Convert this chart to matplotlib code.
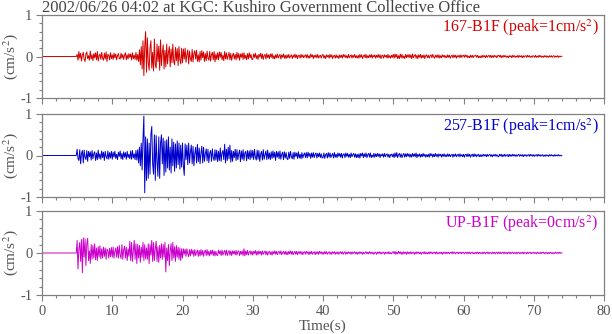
import numpy as np
import matplotlib
matplotlib.use("Agg")
import matplotlib.pyplot as plt
from matplotlib.ticker import MultipleLocator

plt.rcParams['font.family'] = ['Liberation Serif', 'DejaVu Serif']
plt.rcParams['mathtext.fontset'] = 'stix'

title = "2002/06/26 04:02 at KGC: Kushiro Government Collective Office"
dt = 0.125  # sample spacing (s) of the values
names = ["167-B1F", "257-B1F", "UP-B1F"]
peaks = [1, 1, 0]
colors = ["#d40000", "#0000cc", "#cc00cc"]

# accelerations in units of 0.01 cm/s^2, one row = 5 s
acc_167 = [
    0, 0, 0, 0, 0, 0, 0, 0, 0, 0, 0, 0, 0, 0, 0, 0, 0, 0, 0, 0, 0, 0, 0, 0, 0, 0, 0, 0, 0, 0, 0, 0, 0, 0, 0, 0, 0, 0, 0, 0,
    5, -9, 12, -4, 8, -11, 3, 10, -7, -12, 6, 11, -5, 2, -9, 13, -6, 4, -10, 7, -3, 9, -8, 12, -11, 2, 6, -7, 10, -4, -9, 8, -6, 11, -12, 5, 3, -8, 9, -5,
    4, -7, 8, -3, 6, -8, 2, 7, -5, -6, 8, -4, 5, -7, 3, 9, -8, 4, -6, 7, -2, 6, -8, 9, -5, 3, -7, 10, -9, 5, -12, 16, -20, 24, -30, 38, -46, 25, 60, -38,
    45, -15, -33, 20, 38, -28, 10, -35, 42, -20, -28, 30, -12, 25, -33, 40, -22, 8, 28, -30, 15, -25, 30, -18, 10, 24, -25, 18, -15, 30, -12, -20, 22, -10, 19, -22, 24, -8, -18, 20,
    -15, 18, -6, 20, -14, 4, 16, -18, 13, -5, -12, 17, -13, 8, 14, -6, 15, -12, 4, -13, 12, -9, 14, -3, 11, -12, 7, -10, 13, -4, -9, 12, -11, 5, 10, -8, 12, -13, 6, -7,
    9, -8, 11, -2, 10, -8, 3, -10, 12, -6, 9, -7, 2, 10, -8, 7, -9, 3, 8, -6, 5, -8, 10, -4, 7, -9, 6, -2, 8, -7, 9, -5, 3, -8, 7, -6, 9, -3, 5, -7,
    -7, 6, -2, 8, -5, 3, -7, 5, -1, 8, -5, 6, -7, 2, 5, -6, 7, -3, 4, -5, 6, -2, 7, -5, 2, -6, 4, -3, 6, -4, 1, 5, -6, 4, -2, 6, -4, 3, -5, 4,
    -3, 5, -4, 1, 4, -5, 3, -2, 6, -3, 4, -5, 2, 3, -4, 5, -2, 4, -3, 1, 4, -3, 5, -4, 2, -4, 6, -1, 4, -5, 3, -2, 4, -3, 5, -4, 1, 3, -4, 3,
    5, -4, 2, -5, 4, -1, 3, -4, 5, -2, 4, -5, 1, 3, -4, 4, -3, 2, -5, 4, -2, 3, -4, 5, -1, 4, -3, 2, -4, 5, -3, 1, 4, -4, 3, -2, 5, -3, 2, -4,
    3, -4, 5, -2, 4, -5, 1, 4, -3, 5, -4, 2, -3, 4, -2, 5, -4, 3, -1, 4, -4, 3, -2, 5, -3, 4, -5, 2, 3, -4, 4, -1, 3, -4, 5, -3, 2, -4, 3, -2,
    5, -4, 6, -2, 5, -5, 2, -5, 6, -3, 5, -4, 1, -5, 5, -3, 4, -2, 5, -3, 4, -5, 6, -3, 2, 5, -4, 3, -5, 4, -2, 5, -4, 3, -3, 4, -5, 2, 4, -3,
    3, -4, 2, 4, -3, 5, -1, -4, 3, -2, 4, -3, 4, -4, 2, -3, 4, -1, 3, -3, 2, -3, 4, -2, 3, -4, 1, 3, -3, 4, -2, 3, -4, 2, -1, 3, -3, 4, -2, 2,
    3, -2, 4, -1, 3, -3, 1, -3, 3, -2, 3, -3, 2, 1, 3, -2, 3, -3, 1, -3, 2, -3, 3, -1, 2, -3, 3, -2, 1, 3, -2, 3, -3, 2, -2, 3, -1, 2, -3, 2,
    3, -1, 3, -3, 2, -2, 3, -1, 2, -2, 1, -3, 2, -1, 2, -3, 3, -1, 2, -2, 1, -2, 3, -2, 2, -1, 2, -3, 2, -2, 1, 2, -2, 3, -1, 2, -2, 1, -2, 2,
    1, -2, 3, -2, 1, -2, 3, -1, 2, -2, 1, -2, 2, -1, 2, -2, 1, -2, 2, -1, 2, -2, 1, 2, -2, 1, -1, 2, -2, 1, -1, 1, 0,
]

acc_257 = [
    0, 0, 0, 0, 0, 0, 0, 0, 0, 0, 0, 0, 0, 0, 0, 0, 0, 0, 0, 0, 0, 0, 0, 0, 0, 0, 0, 0, 0, 0, 0, 0, 0, 0, 0, 0, 0, 0, 0, 0,
    15, -8, -12, 14, -20, 5, 12, -18, 13, -4, -10, 12, -14, 10, -3, 9, -11, 12, -8, 4, 9, -12, 6, -10, 13, -7, 4, -9, 11, -5, 8, -12, 10, -3, -8, 11, -9, 7, -6, 10,
    -9, 8, -4, 10, -7, 3, -10, 8, -2, 11, -8, 5, -10, 9, -4, 7, -9, 10, -5, 3, -8, 11, -9, 12, -6, 4, -10, 12, -11, 14, -18, 20, -25, 30, -35, 40, 95, -90, 45, -60,
    40, -55, 30, -45, 50, 70, -20, -45, 50, -60, 48, -15, -50, 45, -55, 30, 50, -20, 42, -48, 35, -40, 38, -30, 45, -35, 20, -42, 40, -25, 32, -38, 28, -30, 35, -22, 30, -33, 25, -28,
    30, -25, -48, 28, -10, 25, -22, 30, -18, 8, 25, -20, 22, -25, 5, 20, -18, 27, -15, 18, -20, 6, 22, -18, 20, -14, 4, 16, -13, 15, -17, 6, 12, -14, 16, -5, -12, 14, -11, 13,
    -15, 10, -12, 18, -14, 6, 12, -10, 27, -18, 15, -12, 20, -8, 25, -16, 12, -14, 10, -5, 15, -12, 14, -10, 4, 13, -15, 11, -9, 14, -12, 6, 10, -13, 12, -8, 11, -10, 13, -6,
    12, -10, 15, -4, -11, 13, -9, 12, -14, 3, 10, -11, 14, -9, 2, 11, -10, 13, -8, 6, -10, 9, -7, 11, -5, 8, -12, 10, -4, 9, -8, 11, -9, 3, 8, -10, 9, -6, 7, -8,
    -10, 8, -7, 10, -3, -8, 7, -9, 8, -2, 6, -7, 9, -6, 3, -8, 7, -6, 2, 6, -5, 7, -6, 8, -2, 5, -7, 6, -4, 7, -5, 3, 6, -6, 5, -3, 6, -5, 4, -6,
    -5, 6, -7, 2, 5, -6, 7, -4, 6, -5, 1, 5, -6, 7, -4, 3, -5, 6, -2, 5, -4, 5, -6, 3, 4, -5, 6, -2, 5, -4, 3, -5, 6, -3, 2, 5, -4, 4, -5, 3,
    -5, 4, -6, 5, -1, 6, -5, 4, -3, 6, -5, 2, 5, -4, 6, -5, 1, -4, 5, -4, 4, -3, 5, -2, 4, -5, 3, -1, 4, -4, 5, -3, 2, 4, -4, 3, -5, 2, 3, -3,
    4, -5, 6, -3, 7, -5, 2, 5, -4, 4, -5, 1, 5, -4, 4, -3, 5, -2, 4, -4, 3, -4, 5, -2, 4, -3, 6, -5, 3, -2, 4, -4, 3, -3, 5, -2, 3, -4, 2, -3,
    3, -4, 5, -1, 4, -4, 3, -3, 5, -2, 3, -4, 4, -1, 3, -4, 3, -2, 4, -3, 2, -3, 4, -2, 3, -3, 1, 3, -4, 3, -2, 4, -3, 1, 3, -3, 4, -2, 2, -3,
    3, -4, 2, 3, -3, 4, -2, 3, -4, 1, 3, -3, 4, -2, 3, -3, 1, 3, -3, 2, -3, 2, -2, 3, -1, 2, -3, 3, -2, 1, 3, -2, 2, -3, 2, -1, 3, -2, 2, -2,
    -3, 3, -1, 3, -3, 2, -2, 3, -2, 1, 2, -3, 3, -2, 2, -2, 3, -1, 2, -2, 2, -2, 1, 3, -2, 2, -1, 2, -3, 2, -1, 2, -2, 1, 2, -2, 3, -1, 2, -2,
    2, -2, 1, 2, -2, 3, -1, 2, -2, 1, 2, -2, 1, -2, 2, -1, 1, -2, 2, -1, 2, -1, 1, -2, 2, -1, 1, -1, 2, -1, 1, -1, 0,
]

acc_up = [
    0, 0, 0, 0, 0, 0, 0, 0, 0, 0, 0, 0, 0, 0, 0, 0, 0, 0, 0, 0, 0, 0, 0, 0, 0, 0, 0, 0, 0, 0, 0, 0, 0, 0, 0, 0, 0, 0, 0, 0,
    30, -38, 10, 25, -20, 32, -47, 36, -10, 34, -30, 22, 35, -18, 5, -25, 20, -15, 18, -12, 22, -16, 12, -18, 15, -9, 17, -14, 10, -12, 14, -8, 12, -15, 9, 6, -12, 11, -9, 13,
    -10, 14, -12, 4, 12, -10, 15, -12, 18, -5, -13, 20, -15, 8, 16, -12, 14, -18, 10, -8, 28, -18, 25, -20, 6, 30, -15, 22, -25, 20, -12, 18, -22, 14, -10, 25, -18, 20, -14, 12,
    -15, 22, -25, 20, -5, 30, -20, 25, -18, 10, 28, -20, 15, -22, 18, -12, 22, -15, 20, -10, 25, -45, 12, -18, 20, -30, 5, 22, -18, 25, -12, 15, -20, 18, -10, 14, -15, 12, -18, 10,
    -12, 10, -3, 9, -8, 10, -2, -9, 8, -7, 9, -3, 7, -8, 8, -6, 2, 7, -8, 6, -7, 8, -5, 6, -8, 3, 7, -6, 8, -5, 4, -7, 6, -3, 7, -6, 5, -7, 4, -5,
    -6, 7, -2, 5, -6, 7, -5, 2, 6, -5, 7, -6, 1, 6, -5, 5, -6, 5, -2, 5, -4, 6, -5, 3, 5, -6, 4, -3, 5, -6, 10, -7, 5, -4, 6, -5, 2, 5, -4, 4,
    -5, 4, -1, 6, -5, 4, -4, 5, -2, 4, -5, 5, -3, 1, 5, -4, 4, -5, 2, 4, -4, 3, -5, 4, -2, 5, -3, 4, -4, 2, 4, -3, 5, -4, 1, 4, -3, 4, -4, 3,
    -4, 4, -2, 5, -3, 4, -4, 1, 4, -3, 4, -4, 3, -1, 4, -3, 3, -4, 2, 3, -3, 4, -1, 3, -4, 3, -2, 4, -3, 1, 3, -4, 3, -2, 3, -3, 4, -1, 3, -3,
    2, -3, 4, -2, 3, -3, 1, 3, -3, 2, -3, 3, -1, 3, -3, 2, -2, 3, -3, 1, 3, -2, 3, -3, 1, 3, -3, 2, -2, 3, -1, 2, -3, 3, -2, 1, 3, -2, 2, -3,
    2, -2, 3, -1, 2, -3, 2, -2, 1, 3, -2, 2, -2, 3, -1, 2, -2, 2, -3, 1, 2, -3, 2, -1, 3, -2, 2, -2, 1, 2, -3, 2, -1, 2, -2, 3, -2, 1, -2, 2,
    3, -2, 4, -3, 2, -2, 4, -1, 3, -3, 2, -3, 3, -1, 2, -3, 3, -2, 2, -2, 3, -2, 1, 2, -3, 2, -2, 3, -1, 2, -2, 2, -3, 1, 2, -2, 3, -2, 1, -2,
    2, -2, 3, -1, 2, -2, 1, 2, -2, 3, -2, 1, -2, 2, -1, 2, -3, 2, -1, 2, -2, 2, -1, 2, -2, 1, 2, -2, 3, -1, 2, -2, 1, 2, -2, 2, -1, 2, -2, 1,
    2, -2, 1, 2, -2, 2, -1, 2, -2, 1, 2, -2, 1, -2, 2, -1, 2, -2, 2, -1, 1, -2, 2, -1, 2, -2, 1, 2, -2, 2, -1, 1, -2, 2, -1, 2, -2, 1, 2, -2,
    2, -1, 2, -2, 1, 2, -2, 2, -1, 1, -2, 2, -1, 2, -2, 1, 2, -2, 1, -1, 2, -2, 1, 2, -2, 1, -1, 2, -2, 2, -1, 1, -2, 2, -1, 1, 2, -2, 1, -1,
    2, -1, 1, -2, 2, -1, 1, -2, 2, -1, 1, 2, -2, 1, -1, 2, -2, 1, -1, 2, -1, 1, -2, 1, -1, 2, -1, 1, -1, 2, -1, 1, 0,
]

series = [acc_167, acc_257, acc_up]
UNIT = 0.01  # cm/s^2 per listed unit

GRAY = "#808080"
TXT = "#555555"

fig = plt.figure(figsize=(6.12, 3.34), dpi=100)
left, width = 42 / 612, 562 / 612
tops = [15, 114, 211]
bottoms = [98, 197, 295]
axes = []
for i in range(3):
    b = 1 - bottoms[i] / 334
    h = (bottoms[i] - tops[i]) / 334
    ax = fig.add_axes([left, b, width, h])
    axes.append(ax)
    vals = np.array(series[i], dtype=float) * UNIT
    t = np.arange(len(vals)) * dt
    ax.plot(t, vals, color=colors[i], lw=0.7)
    ax.set_xlim(0, 80)
    ax.set_ylim(-1, 1)
    ax.xaxis.set_major_locator(MultipleLocator(10))
    ax.xaxis.set_minor_locator(MultipleLocator(2))
    ax.yaxis.set_major_locator(MultipleLocator(1))
    ax.yaxis.set_minor_locator(MultipleLocator(0.2))
    ax.tick_params(which='major', direction='out', length=4.5, width=0.8,
                   colors=GRAY, labelcolor=TXT, labelsize=10.5, pad=2.5)
    ax.tick_params(which='minor', direction='out', length=2.5, width=0.8, colors=GRAY)
    for sp in ax.spines.values():
        sp.set_color(GRAY)
        sp.set_linewidth(0.9)
    ax.set_yticks([-1, 0, 1])
    ax.set_yticklabels(['-1', '0', '1'])
    ax.set_ylabel(r'(cm/s$^2$)', color=TXT, fontsize=11)
    ax.yaxis.set_label_coords(-0.039, 0.5)
    ax.text(0.99, 0.97, f'{names[i]} (peak={peaks[i]}cm/s$^2$)', transform=ax.transAxes,
            ha='right', va='top', color=colors[i], fontsize=11.5)
    if i < 2:
        ax.tick_params(labelbottom=False)

axes[2].set_xlabel('Time(s)', color=TXT, fontsize=11, labelpad=1)
fig.text(42 / 612, 1 - 7.5 / 334, title, ha='left', va='center', color='#444444', fontsize=11.9)

fig.savefig('out.png', dpi=100)
